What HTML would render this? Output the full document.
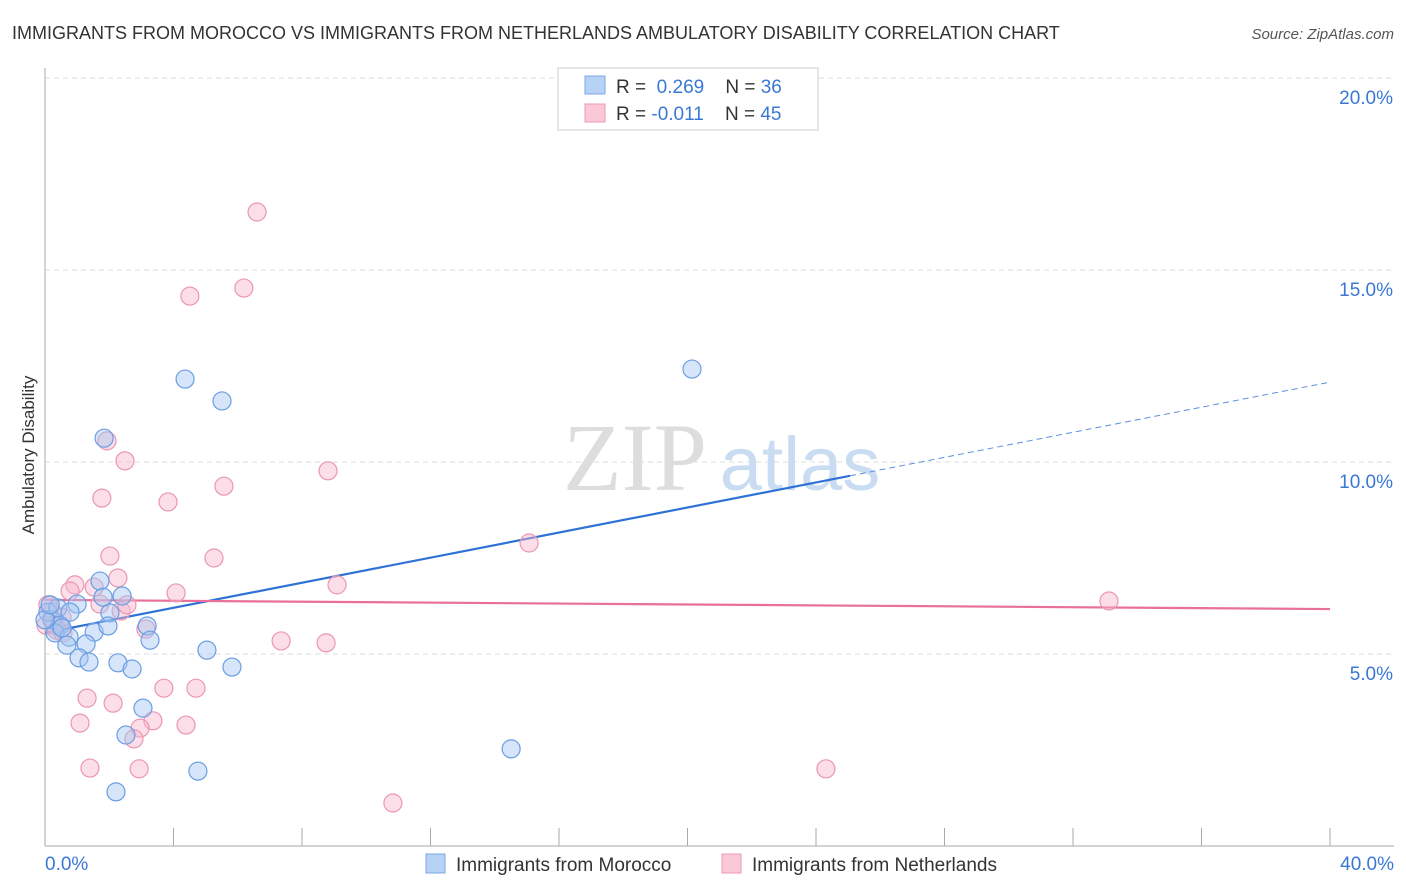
<!DOCTYPE html>
<html><head><meta charset="utf-8"><style>
body{margin:0;background:#fff;font-family:"Liberation Sans",sans-serif;}
svg{display:block}
</style></head><body>
<svg id="chart" width="1406" height="892" viewBox="0 0 1406 892">
<text x="12" y="39" font-size="18" fill="#333">IMMIGRANTS FROM MOROCCO VS IMMIGRANTS FROM NETHERLANDS AMBULATORY DISABILITY CORRELATION CHART</text>
<text x="1394" y="39" font-size="15" fill="#555" font-style="italic" text-anchor="end">Source: ZipAtlas.com</text>
<g id="grid"></g>
<g>
<text x="635" y="490" font-size="96" fill="#ddd" font-family="Liberation Serif,serif" text-anchor="middle">ZIP</text>
<text x="800" y="490" font-size="76" fill="#c9dcf2" text-anchor="middle">atlas</text>
</g>
<g id="lines"></g>
<g id="points"></g>
<text x="34" y="455" font-size="17" fill="#333" text-anchor="middle" transform="rotate(-90 34 455)">Ambulatory Disability</text>
<g>
<rect x="558" y="68" width="260" height="62" fill="#fff" stroke="#ccc"/>
<rect x="585" y="76" width="20" height="18" fill="#b8d2f5" stroke="#7aa7e4"/>
<rect x="585" y="104" width="20" height="18" fill="#fbc8d8" stroke="#ec9ab3"/>
<text x="616" y="93" font-size="19" fill="#333">R = <tspan fill="#3a78d4">&#160;0.269</tspan>&#160;&#160;&#160;&#160;N = <tspan fill="#3a78d4">36</tspan></text>
<text x="616" y="120" font-size="19" fill="#333">R = <tspan fill="#3a78d4">-0.011</tspan>&#160;&#160;&#160;&#160;N = <tspan fill="#3a78d4">45</tspan></text>
</g>
<g>
<rect x="426" y="854" width="19" height="19" fill="#b8d2f5" stroke="#7aa7e4"/>
<text x="456" y="871" font-size="19" fill="#333">Immigrants from Morocco</text>
<rect x="722" y="854" width="19" height="19" fill="#fbc8d8" stroke="#ec9ab3"/>
<text x="752" y="871" font-size="19" fill="#333">Immigrants from Netherlands</text>
</g>
</svg>
<script>
const blueX=[1.84,4.36,5.51,20.14,1.71,2.40,2.02,1.00,0.09,0.22,0.47,0.31,0.75,1.53,1.96,3.18,3.27,1.28,0.68,1.06,1.37,2.27,2.71,5.04,5.82,3.05,2.52,4.76,2.21,14.51,0.40,0.0,0.53,1.81,0.16,0.78];
const blueY=[10.62,12.16,11.59,12.42,6.90,6.51,6.07,6.30,6.09,5.89,5.75,5.55,5.44,5.57,5.73,5.73,5.36,5.26,5.23,4.90,4.79,4.77,4.61,5.10,4.66,3.59,2.89,1.95,1.41,2.53,6.20,5.89,5.68,6.48,6.28,6.09];
const pinkX=[6.60,4.51,6.19,1.93,2.49,8.81,1.77,3.83,5.57,15.07,2.02,5.26,0.93,2.27,4.08,9.09,0.78,1.53,1.71,2.37,2.55,0.09,0.22,0.03,0.37,0.56,3.14,7.35,8.75,33.12,1.31,2.12,3.70,4.70,1.09,3.36,2.96,4.39,2.77,1.40,2.93,24.31,10.83,0.53,0.31];
const pinkY=[16.51,14.32,14.53,10.55,10.03,9.77,9.06,8.96,9.37,7.89,7.55,7.50,6.80,6.98,6.59,6.80,6.64,6.74,6.30,6.12,6.28,6.28,6.09,5.75,5.62,5.55,5.65,5.34,5.29,6.38,3.85,3.72,4.11,4.11,3.20,3.26,3.07,3.15,2.79,2.03,2.01,2.01,1.12,5.96,5.75];
const yTicks=[5,10,15,20];
const yTickLabels=["5.0%","10.0%","15.0%","20.0%"];
const xTickLabels=["0.0%","40.0%"];
const blueTrend=[5.55,12.08];
const blueSolidEnd=25.06;
const pinkTrend=[6.41,6.17];

const NS="http://www.w3.org/2000/svg";
const X0=45,X1=1330,Y0=846,Yper=192/5;
const sx=v=>X0+(v/40)*(X1-X0);
const sy=v=>Y0-v*Yper;
function mk(tag,attrs,parent){const e=document.createElementNS(NS,tag);for(const k in attrs)e.setAttribute(k,attrs[k]);parent.appendChild(e);return e;}
const grid=document.getElementById('grid');
const svg=document.getElementById('chart');
yTicks.forEach((t,i)=>{
 const l=mk('line',{x1:X0,x2:1394,y1:sy(t),y2:sy(t),stroke:'#ddd','stroke-dasharray':'5,4'},grid);
 
 
 const tx=mk('text',{x:1393,y:sy(t)+26,'font-size':19,fill:'#3a78d4','text-anchor':'end'},grid);
 tx.textContent=yTickLabels[i];
 
 
});
const ax=mk('line',{x1:X0,x2:X0,y1:68,y2:Y0,stroke:'#aaa'},grid);


const bx=mk('line',{x1:X0,x2:1394,y1:Y0,y2:Y0,stroke:'#aaa'},grid);


for(let i=0;i<=10;i++){
 const tk=mk('line',{x1:sx(i*4),x2:sx(i*4),y1:Y0-18,y2:Y0,stroke:'#aaa'},grid);
 
 
}
[[0,'start',45],[40,'end',1394]].forEach((d,i)=>{
 const tx=mk('text',{x:d[2],y:870,'font-size':19,fill:'#3a78d4','text-anchor':d[1]},grid);
 tx.textContent=xTickLabels[i];
 
 
});
const pts=document.getElementById('points');
function drawPts(xs,ys,fill,stroke,name){
 xs.forEach((x,i)=>{
  const c=mk('circle',{cx:sx(x),cy:sy(ys[i]),r:9,fill:fill,stroke:stroke,'stroke-width':1.2},pts);
  
  
 });
}
drawPts(pinkX,pinkY,'rgba(248,182,204,0.45)','#ea97b2','point-netherlands');
drawPts(blueX,blueY,'rgba(164,198,242,0.45)','#6a9ee2','point-morocco');
const lines=document.getElementById('lines');
const bslope=(blueTrend[1]-blueTrend[0])/40;
const b1=mk('line',{x1:sx(0),y1:sy(blueTrend[0]),x2:sx(blueSolidEnd),y2:sy(blueTrend[0]+bslope*blueSolidEnd),stroke:'#2f72d6','stroke-width':2.2},lines);


const b2=mk('line',{x1:sx(blueSolidEnd),y1:sy(blueTrend[0]+bslope*blueSolidEnd),x2:sx(40),y2:sy(blueTrend[1]),stroke:'#5a90dc','stroke-width':1,'stroke-dasharray':'6,4'},lines);


const p1=mk('line',{x1:sx(0),y1:sy(pinkTrend[0]),x2:sx(40),y2:sy(pinkTrend[1]),stroke:'#e8709a','stroke-width':2.2},lines);


</script>
</body></html>
